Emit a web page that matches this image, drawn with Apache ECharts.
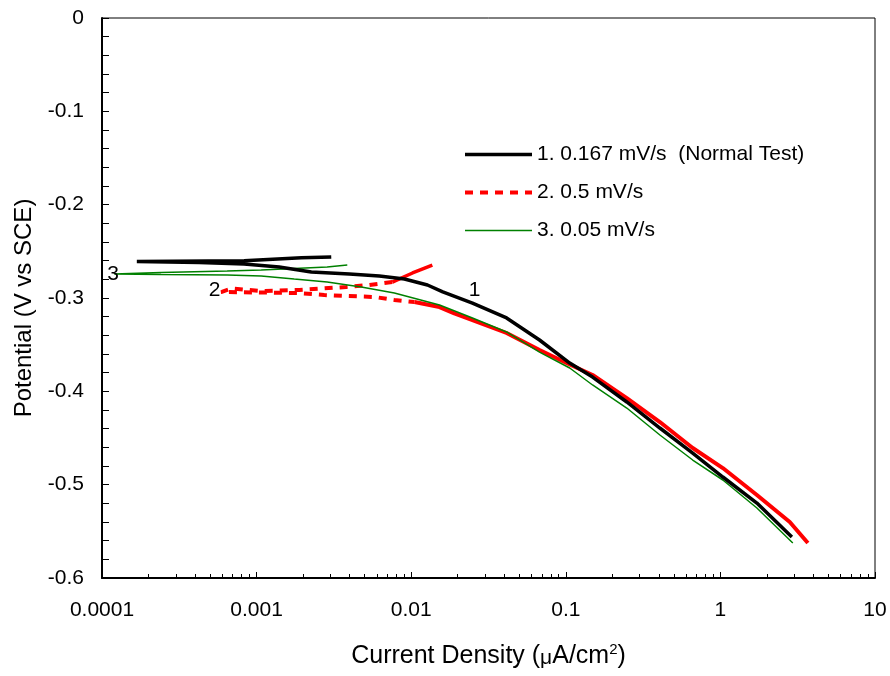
<!DOCTYPE html>
<html>
<head>
<meta charset="utf-8">
<script src="https://cdn.jsdelivr.net/npm/echarts@6/dist/echarts.min.js"></script>
<style>html,body{margin:0;padding:0;background:#fff;}#c{width:890px;height:676px;}</style>
</head>
<body>
<div id="c"></div>
<script>
// ---- data ----
var seriesNames = ['1. 0.167 mV/s  (Normal Test)', '2. 0.5 mV/s', '3. 0.05 mV/s'];
var xTickLabels = ['0.0001', '0.001', '0.01', '0.1', '1', '10'];
var xMajorTicks = [0.0001, 0.001, 0.01, 0.1, 1, 10];
var xMinorTicks = [0.0002,0.0003,0.0004,0.0005,0.0006,0.0007,0.0008,0.0009,
                   0.002,0.003,0.004,0.005,0.006,0.007,0.008,0.009,
                   0.02,0.03,0.04,0.05,0.06,0.07,0.08,0.09,
                   0.2,0.3,0.4,0.5,0.6,0.7,0.8,0.9,
                   2,3,4,5,6,7,8,9];

// Series 1 (0.167 mV/s)
var s1X = [0.00304,0.00195,0.00083,0.000168,0.000425,0.00083,0.0014,0.00226,0.00398,0.00622,0.00904,0.01274,0.0160,0.0249,0.0414,0.0676,0.106,0.149,0.248,0.406,0.662,1.037,1.722,2.9];
var s1Y = [-0.256,-0.257,-0.260,-0.261,-0.262,-0.2636,-0.2668,-0.2722,-0.2743,-0.2764,-0.2797,-0.2861,-0.2935,-0.3054,-0.3214,-0.345,-0.3697,-0.3847,-0.4114,-0.4393,-0.4661,-0.4918,-0.5197,-0.5561];

// Series 2 (0.5 mV/s): start (solid), loop near OCP (dashed), cathodic branch (solid)
var s2aX = [0.0137,0.0102,0.00755];
var s2aY = [-0.2647,-0.2732,-0.2829];
var s2bX = [0.00755,0.00535,0.0038,0.00189,0.00107,0.00069,0.00059,0.00107,0.00189,0.00274,0.00386,0.00578,0.00778,0.0105];
var s2bY = [-0.2829,-0.2861,-0.2882,-0.2914,-0.2925,-0.2898,-0.2936,-0.2941,-0.2947,-0.2968,-0.2979,-0.2989,-0.3021,-0.3043];
var s2cX = [0.0105,0.01525,0.019,0.0249,0.0414,0.0676,0.101,0.149,0.248,0.406,0.662,1.037,1.722,2.81,3.68];
var s2cY = [-0.3043,-0.3097,-0.3165,-0.3236,-0.3375,-0.3557,-0.3697,-0.3825,-0.4072,-0.4329,-0.4607,-0.4822,-0.5111,-0.540,-0.5625];

// Series 3 (0.05 mV/s)
var s3X = [0.00386,0.00286,0.00175,0.00107,0.000645,0.000241,0.00012,0.000241,0.000645,0.00107,0.00175,0.00286,0.00475,0.00778,0.01525,0.0249,0.0414,0.0676,0.106,0.149,0.248,0.406,0.662,1.037,1.722,2.94];
var s3Y = [-0.2647,-0.2668,-0.2684,-0.270,-0.2711,-0.2727,-0.2743,-0.2748,-0.2754,-0.2764,-0.2797,-0.2829,-0.2882,-0.2947,-0.3075,-0.3214,-0.3364,-0.3579,-0.375,-0.3932,-0.4179,-0.4468,-0.4736,-0.495,-0.525,-0.5625];

// Curve number labels
var labelText = ['1', '2', '3'];
var labelX = [0.0257, 0.000535, 0.000118];
var labelY = [-0.2914, -0.292, -0.2743];

function zip(xs, ys) { return xs.map(function (x, i) { return [x, ys[i]]; }); }

var FONT = 'Liberation Sans, Arial, sans-serif';
var chart = echarts.init(document.getElementById('c'), null, { renderer: 'canvas' });

var gridPos = { left: 102, right: 15, top: 18, bottom: 98 };

var option = {
  animation: false,
  backgroundColor: '#fff',
  grid: [
    Object.assign({ show: true, borderColor: '#000', borderWidth: 1, backgroundColor: 'transparent' }, gridPos),
    Object.assign({ show: false }, gridPos)
  ],
  legend: {
    data: [
      { name: seriesNames[0], lineStyle: { width: 3.5, color: '#000' } },
      { name: seriesNames[1], lineStyle: { width: 4, color: '#ff0000', type: [8, 7] } },
      { name: seriesNames[2], lineStyle: { width: 1.5, color: '#008000' } }
    ],
    orient: 'vertical',
    left: 458, top: 139,
    itemWidth: 67, itemHeight: 20, itemGap: 17,
    itemStyle: { opacity: 0 },
    textStyle: { fontFamily: FONT, fontSize: 21, color: '#000' },
    selectedMode: false
  },
  xAxis: [{
    gridIndex: 0,
    type: 'log', logBase: 10, min: 0.0001, max: 10,
    position: 'bottom',
    name: '{a|Current Density (}{b|μ}{a|A/cm}{s|2}{a|)}',
    nameLocation: 'middle', nameGap: 64,
    nameTextStyle: {
      rich: {
        a: { fontFamily: FONT, fontSize: 25, color: '#000', verticalAlign: 'bottom' },
        b: { fontFamily: FONT, fontSize: 21, color: '#000', verticalAlign: 'bottom' },
        s: { fontFamily: FONT, fontSize: 15, color: '#000', verticalAlign: 'top', padding: [0, 0, 12, 0] }
      }
    },
    axisLine: { show: true, onZero: false, lineStyle: { color: '#000', width: 2 } },
    axisTick: { show: true, inside: true, length: 6, customValues: xMajorTicks, lineStyle: { color: '#000', width: 1 } },
    axisLabel: {
      margin: 22, fontFamily: FONT, fontSize: 21, color: '#000',
      customValues: xMajorTicks,
      formatter: function (v) { var i = Math.round(Math.log10(v)) + 4; return xTickLabels[i] || ''; }
    },
    splitLine: { show: false }
  }, {
    gridIndex: 1,
    type: 'log', logBase: 10, min: 0.0001, max: 10,
    position: 'bottom',
    axisLine: { show: false, onZero: false },
    axisTick: { show: true, inside: true, length: 4, customValues: xMinorTicks, lineStyle: { color: '#000', width: 1 } },
    axisLabel: { show: false },
    splitLine: { show: false }
  }],
  yAxis: [{
    gridIndex: 0,
    type: 'value', min: -0.6, max: 0, interval: 0.1,
    name: 'Potential (V vs SCE)',
    nameLocation: 'middle', nameGap: 66, nameRotate: 90,
    nameTextStyle: { fontFamily: FONT, fontSize: 24, color: '#000', padding: [0, 20, 0, 0] },
    axisLine: { show: true, onZero: false, lineStyle: { color: '#000', width: 2 } },
    axisTick: { show: true, inside: true, length: 7, lineStyle: { color: '#000', width: 1 } },
    minorTick: { show: true, splitNumber: 5, length: 7, lineStyle: { color: '#000', width: 1 } },
    axisLabel: {
      margin: 18, fontFamily: FONT, fontSize: 21, color: '#000',
      formatter: function (v) { return Math.abs(v) < 1e-9 ? '0' : (Math.round(v * 10) / 10).toString(); }
    },
    splitLine: { show: false }
  }, {
    gridIndex: 1,
    type: 'value', min: -0.6, max: 0,
    show: false
  }],
  series: [
    {
      name: seriesNames[2], type: 'line', data: zip(s3X, s3Y), symbol: 'none',
      lineStyle: { color: '#008000', width: 1.5 }, itemStyle: { color: '#008000' }, z: 3
    },
    {
      name: seriesNames[1], type: 'line', data: zip(s2bX, s2bY), symbol: 'none',
      lineStyle: { color: '#ff0000', width: 4, type: [8, 7] }, itemStyle: { color: '#ff0000' }, z: 2
    },
    {
      name: seriesNames[1], type: 'line', data: zip(s2aX, s2aY), symbol: 'none',
      lineStyle: { color: '#ff0000', width: 3.5 }, itemStyle: { color: '#ff0000' }, z: 2
    },
    {
      name: seriesNames[1], type: 'line', data: zip(s2cX, s2cY), symbol: 'none',
      lineStyle: { color: '#ff0000', width: 4 }, itemStyle: { color: '#ff0000' }, z: 2
    },
    {
      name: seriesNames[0], type: 'line', data: zip(s1X, s1Y), symbol: 'none',
      lineStyle: { color: '#000', width: 3.5 }, itemStyle: { color: '#000' }, z: 4
    },
    {
      name: 'labels', type: 'scatter', symbolSize: 0, z: 5,
      itemStyle: { opacity: 1, color: '#000' },
      data: labelX.map(function (x, i) { return [x, labelY[i], labelText[i]]; }),
      label: {
        show: true, position: 'inside', fontFamily: FONT, fontSize: 21, color: '#000', opacity: 1,
        formatter: function (p) { return p.value[2]; }
      }
    }
  ]
};
chart.setOption(option);
</script>
</body>
</html>
